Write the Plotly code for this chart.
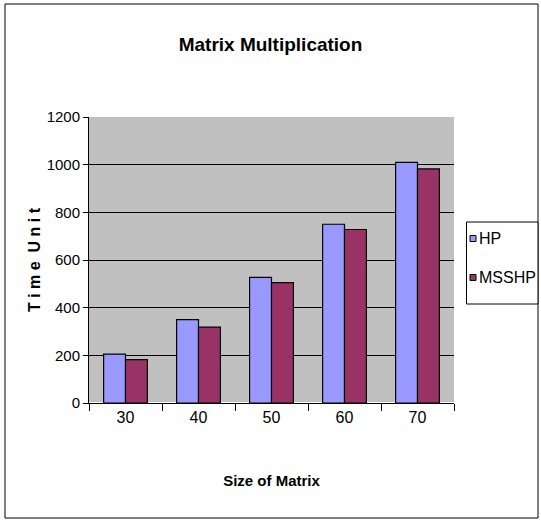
import plotly.graph_objects as go

categories = ["30", "40", "50", "60", "70"]
series_names = ["HP", "MSSHP"]
hp = [205, 350, 527, 750, 1010]
msshp = [182, 318, 505, 728, 982]
colors = ["#9999FF", "#993366"]

W, H = 541, 523
L, R, T, B = 89, 87, 117, 120
pw, ph = W - L - R, H - T - B

def px(x):
    return (x - L) / pw

def py(y):
    return (H - B - y) / ph

font_main = "Liberation Sans, Arial, sans-serif"

fig = go.Figure()
for name, vals, col in zip(series_names, [hp, msshp], colors):
    fig.add_trace(go.Bar(name=name, x=categories, y=vals, showlegend=False,
                         marker=dict(color=col, line=dict(color="#000000", width=1.2))))

shapes = [dict(type="rect", xref="paper", yref="paper",
               x0=px(5), x1=px(538), y0=py(518), y1=py(4),
               line=dict(color="black", width=1), fillcolor="rgba(0,0,0,0)", layer="below")]
# legend box
shapes.append(dict(type="rect", xref="paper", yref="paper",
                   x0=px(466.5), x1=px(538), y0=py(304), y1=py(222),
                   line=dict(color="black", width=1), fillcolor="white", layer="above"))
annotations = []
legend_y = [238.5, 277.5]
for name, col, ly in zip(series_names, colors, legend_y):
    shapes.append(dict(type="rect", xref="paper", yref="paper",
                       x0=px(470), x1=px(476), y0=py(ly + 3), y1=py(ly - 3),
                       line=dict(color="black", width=1), fillcolor=col, layer="above"))
    annotations.append(dict(text=name, xref="paper", yref="paper", x=px(477.5), y=py(ly),
                            xanchor="left", yanchor="middle", showarrow=False,
                            font=dict(family=font_main, size=16, color="black")))

fig.update_layout(
    width=W, height=H,
    margin=dict(l=L, r=R, t=T, b=B, autoexpand=False),
    paper_bgcolor="white",
    plot_bgcolor="#C0C0C0",
    barmode="group",
    bargap=0.4,
    bargroupgap=0,
    showlegend=False,
    title=dict(text="<b>Matrix Multiplication</b>", x=0.5, xanchor="center", y=1 - 44 / H, yanchor="middle",
               font=dict(family=font_main, size=19, color="black")),
    font=dict(family=font_main, size=14, color="black"),
    xaxis=dict(
        type="category", tickson="boundaries", ticks="outside", ticklen=7, tickcolor="black",
        showline=True, linecolor="black", linewidth=1, automargin=False,
        tickfont=dict(family=font_main, size=16),
        title=dict(text="<b>Size of Matrix</b>", font=dict(family=font_main, size=15), standoff=50),
    ),
    yaxis=dict(
        range=[0, 1200], dtick=200, ticks="outside", ticklen=5, tickcolor="black",
        showline=True, linecolor="black", linewidth=1, automargin=False,
        showgrid=True, gridcolor="black", gridwidth=1,
        tickfont=dict(family=font_main, size=15),
        title=dict(text="<b>T i m e  U n i t</b>", font=dict(family=font_main, size=16), standoff=2),
    ),
    shapes=shapes,
    annotations=annotations,
)

fig.write_html("out.html", config={"displayModeBar": False},
               post_script="document.body.style.margin='0';")
